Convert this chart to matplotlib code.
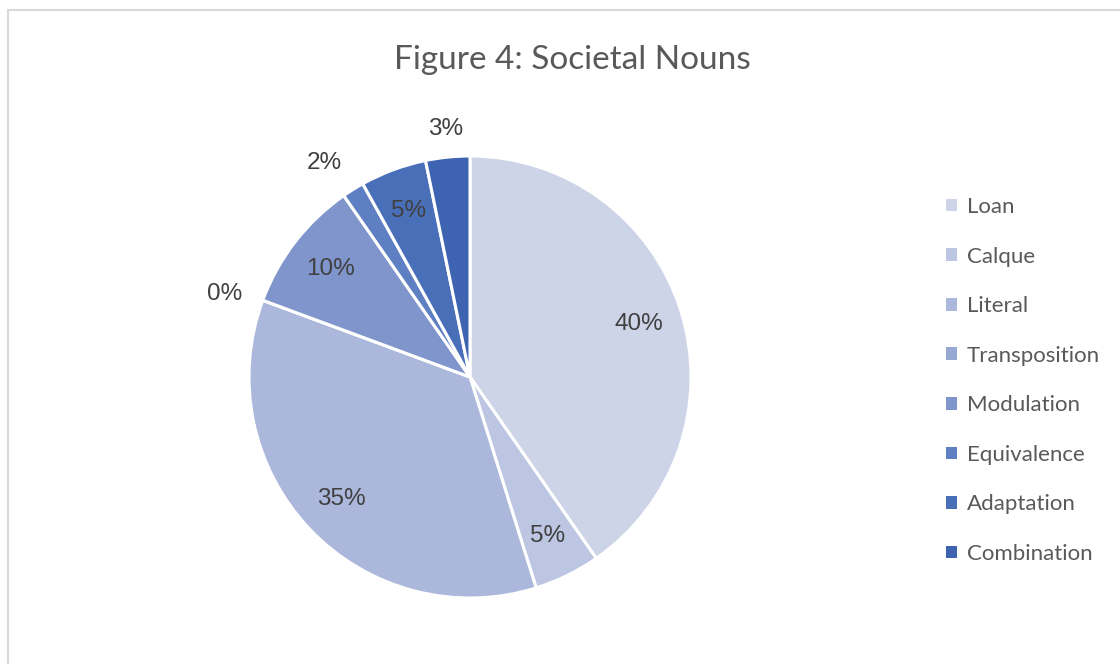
import matplotlib.pyplot as plt
from matplotlib.patches import Rectangle
import numpy as np

# category counts (shown as percentages)
labels = ["Loan", "Calque", "Literal", "Transposition", "Modulation",
          "Equivalence", "Adaptation", "Combination"]
counts = [25, 3, 22, 0, 6, 1, 3, 2]
colors = ["#CDD4E8", "#BCC6E2", "#ABB7DB", "#97A8D3", "#7F95CB",
          "#5E80C2", "#4A6FB9", "#3E64B1"]

fig = plt.figure(figsize=(11.2, 6.64), dpi=100)

# chart frame (runs off the right/bottom edge like the screenshot)
fig.patches.append(Rectangle((8 / 1120, -0.05), 1.2, 1 - 10 / 664 + 0.05,
                             transform=fig.transFigure, fill=False,
                             edgecolor="#D9D9D9", linewidth=1.5))

cx, cy, r = 470, 377, 221
ax = fig.add_axes([(cx - r) / 1120, (664 - cy - r) / 664, 2 * r / 1120, 2 * r / 664])

wedges, texts, autotexts = ax.pie(
    counts, colors=colors, startangle=90, counterclock=False,
    autopct="%1.0f%%", pctdistance=0.8,
    wedgeprops=dict(edgecolor="white", linewidth=2.2),
    textprops=dict(fontsize=17.5, color="#404040", family="Liberation Sans"))
ax.set_xlim(-1, 1)
ax.set_ylim(-1, 1)
ax.set_aspect("auto")

# small slices get their labels pushed outside the edge
total = sum(counts)
for w, t, c in zip(wedges, autotexts, counts):
    if c / total < 0.04:
        ang = np.deg2rad((w.theta1 + w.theta2) / 2)
        x, y = np.cos(ang), np.sin(ang)
        t.set_position((1.1 * x, 1.08 * y))
        t.set_ha("right" if x < -0.3 else ("left" if x > 0.3 else "center"))
        t.set_va("bottom" if y > 0.4 else ("top" if y < -0.4 else "center"))

fig.text(572 / 1120, 1 - 60 / 664, "Figure 4: Societal Nouns", ha="center",
         va="center", fontsize=24, color="#595959", family="Lato")

leg = fig.legend(wedges, labels, loc="upper left",
                 bbox_to_anchor=(926 / 1120, 1 - 177 / 664),
                 frameon=False, handlelength=0.5, handleheight=0.5,
                 handletextpad=0.45, labelspacing=1.33,
                 prop=dict(family="Lato", size=16))
for t in leg.get_texts():
    t.set_color("#595959")
for h in leg.legend_handles:
    h.set_edgecolor("none")

fig.savefig("out.png", dpi=100, facecolor="white")
